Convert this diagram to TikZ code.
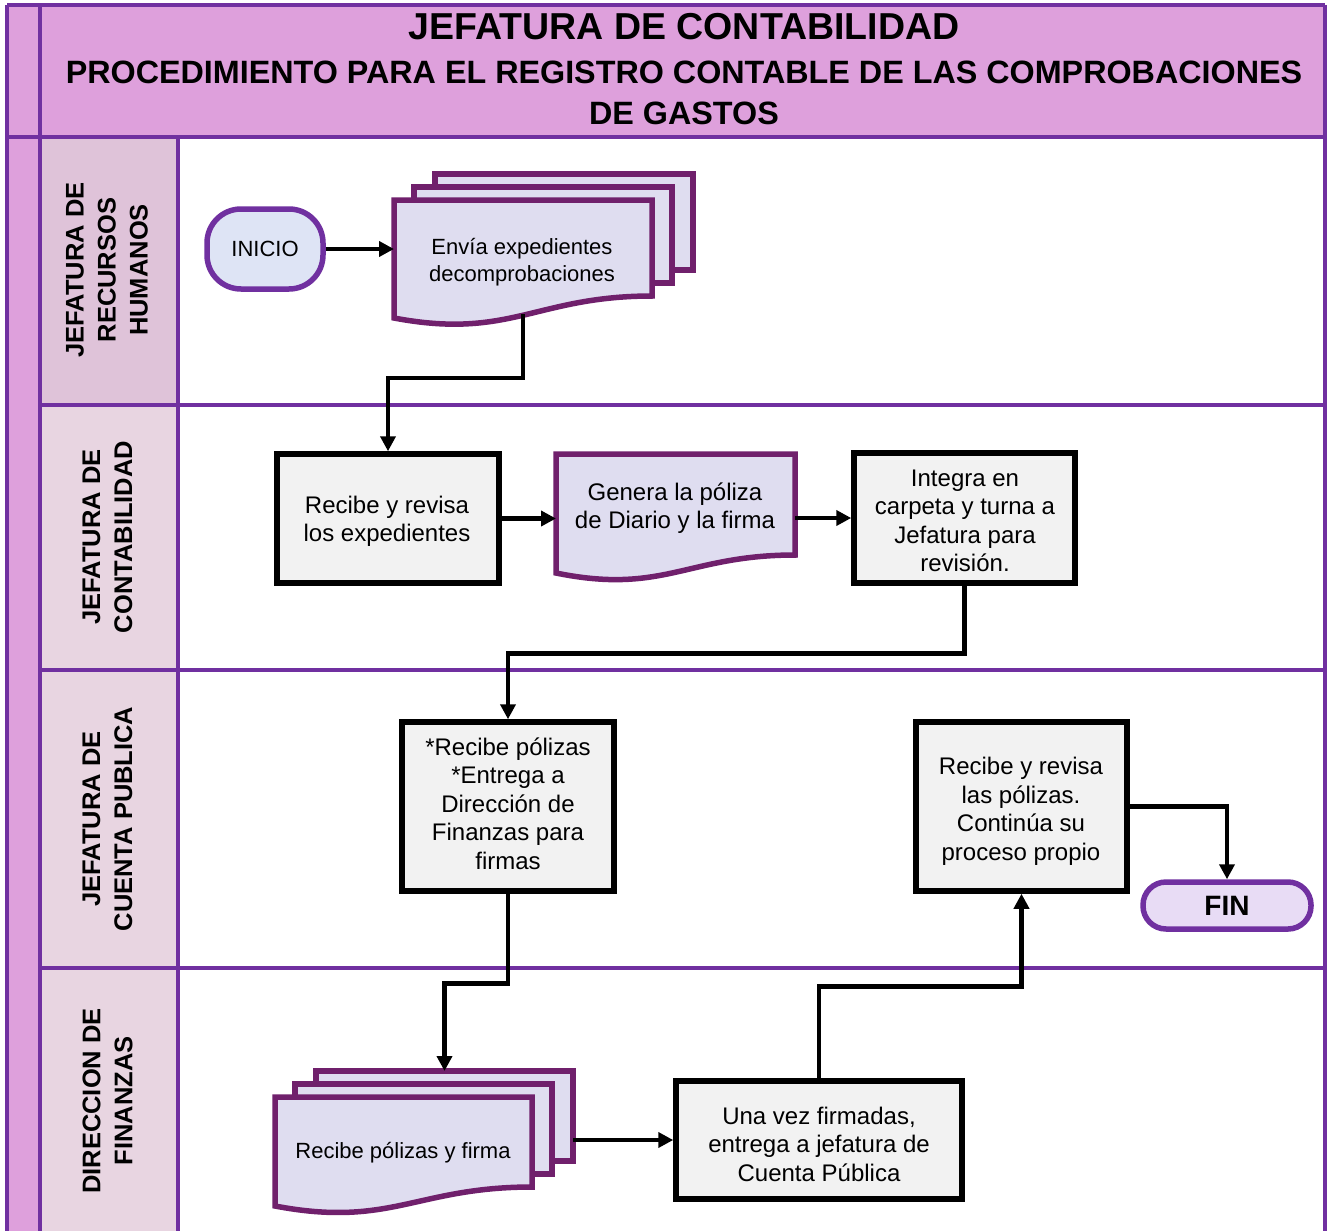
\documentclass[tikz,border=0pt]{standalone}
\usepackage{fontspec}
\setmainfont{Liberation Sans}
\usetikzlibrary{arrows.meta,calc}
\pgfdeclarelayer{lanes}
\pgfdeclarelayer{shapes}
\pgfsetlayers{lanes,shapes,main}

\definecolor{plumbg}{RGB}{222,160,220}
\definecolor{lanepurple}{RGB}{112,48,160}
\definecolor{labelA}{RGB}{223,195,217}
\definecolor{labelB}{RGB}{232,213,225}
\definecolor{docborder}{RGB}{112,32,108}
\definecolor{docfill}{RGB}{223,221,240}
\definecolor{procfill}{RGB}{242,242,242}
\definecolor{startfill}{RGB}{222,228,245}
\definecolor{endfill}{RGB}{232,220,245}

\tikzset{
  laneline/.style={draw=lanepurple, line width=4pt},
  proc/.style={draw=black, fill=procfill, line width=5.5pt, inner sep=0pt},
  boxtext/.style={align=center, inner sep=0pt, font=\fontsize{24}{28.5}\selectfont},
  doctext/.style={align=center, inner sep=0pt, font=\fontsize{22}{27}\selectfont},
  docnode/.style={inner sep=0pt, outer sep=0pt},
  docstyle/.style={draw=docborder, fill=docfill, line width=5.5pt, line join=miter},
  term/.style={draw=lanepurple, line width=5.5pt, align=center},
  conn/.style={draw=black, line width=4.8pt, -{Triangle[length=15pt,width=15pt]}},
  lanelabel/.style={align=center, font=\fontsize{25.5}{32}\selectfont\bfseries, rotate=90},
  titletext/.style={align=center, font=\bfseries},
}

% document body: node name, rise of right bottom corner
\newcommand{\docbody}[2]{%
  \path[docstyle] (#1.north west) -- (#1.north east) -- ($(#1.south east)+(0,-#2)$)
    .. controls ($(#1.south east)!0.45!(#1.south west)+(0,-#2)$)
    and ($(#1.south east)!0.55!(#1.south west)+(0,22)$) .. (#1.south west) -- cycle;}
% back page: node name, dx, dy, rise
\newcommand{\backpage}[4]{%
  \path[docstyle] ($(#1.north west)+(#2,#3)$) rectangle ($(#1.south east)+(#2,#3-#4)$);}

\begin{document}
\begin{tikzpicture}[x=1pt,y=-1pt]
\useasboundingbox (0,0) rectangle (1327,1231);

% ---------------- lanes ----------------
\begin{pgfonlayer}{lanes}
  \fill[white] (7,5) rectangle (1325,1231);
  \fill[plumbg] (7,5) rectangle (1325,137);
  \fill[plumbg] (7,137) rectangle (40,1231);
  \fill[labelA] (40,137) rectangle (178,405);
  \fill[labelB] (40,405) rectangle (178,1231);
  \draw[laneline] (7,5) -- (1325,5);
  \draw[laneline] (7,5) -- (7,1231);
  \draw[laneline] (40,5) -- (40,1231);
  \draw[laneline] (1325,5) -- (1325,1231);
  \draw[laneline] (7,137) -- (1325,137);
  \draw[laneline] (178,137) -- (178,1231);
  \draw[laneline] (40,405) -- (1325,405);
  \draw[laneline] (40,670) -- (1325,670);
  \draw[laneline] (40,968) -- (1325,968);
\end{pgfonlayer}

% ---------------- title ----------------
\node[titletext, font=\fontsize{37.5}{40}\selectfont\bfseries] (t1) at (684,27) {JEFATURA DE CONTABILIDAD};
\node[titletext, font=\fontsize{32.3}{41}\selectfont\bfseries] (t2) at (684,93) {PROCEDIMIENTO PARA EL REGISTRO CONTABLE DE LAS COMPROBACIONES\\DE GASTOS};

% ---------------- lane labels ----------------
\node[lanelabel] (lab1) at (107,270) {JEFATURA DE\\RECURSOS\\HUMANOS};
\node[lanelabel] (lab2) at (107.5,537) {JEFATURA DE\\CONTABILIDAD};
\node[lanelabel] (lab3) at (107.5,819) {JEFATURA DE\\CUENTA PUBLICA};
\node[lanelabel] (lab4) at (107.5,1101) {DIRECCION DE\\FINANZAS};

% ---------------- shapes ----------------
\node[term, fill=startfill, rounded corners=34pt, minimum width=116pt, minimum height=80pt,
  font=\fontsize{22}{26}\selectfont] (inicio) at (265,249) {INICIO};

\node[docnode, minimum width=258pt, minimum height=118pt] (envia) at (523,259) {};
\node[proc, minimum width=222pt, minimum height=129pt] (recibe) at (388,518.5) {};
\node[docnode, minimum width=239pt, minimum height=119pt] (genera) at (675.5,513.5) {};
\node[proc, minimum width=221pt, minimum height=130pt] (integra) at (964.5,518) {};
\node[proc, minimum width=212pt, minimum height=169pt] (recpol) at (508,806.5) {};
\node[proc, minimum width=211pt, minimum height=169pt] (revisa) at (1021.5,806.5) {};
\node[term, fill=endfill, rounded corners=23pt, minimum width=168pt, minimum height=47pt,
  font=\fontsize{28}{30}\selectfont\bfseries] (fin) at (1227,905.5) {FIN};
\node[docnode, minimum width=257pt, minimum height=109pt] (pol) at (403.5,1151.5) {};
\node[proc, minimum width=286pt, minimum height=118pt] (unavez) at (819,1140) {};

% document outlines
\begin{pgfonlayer}{shapes}
  \backpage{envia}{41}{-26}{22}
  \backpage{envia}{20}{-13}{22}
  \docbody{envia}{22}
  \docbody{genera}{18}
  \backpage{pol}{41}{-26}{19}
  \backpage{pol}{20}{-13}{19}
  \docbody{pol}{19}
\end{pgfonlayer}

% ---------------- texts ----------------
\node[doctext] (envia-t) at (522,262) {Envía expedientes\\decomprobaciones};
\node[boxtext] (recibe-t) at (387,521.5) {Recibe y revisa\\los expedientes};
\node[boxtext, font=\fontsize{24}{28}\selectfont] (genera-t) at (675,508.5) {Genera la póliza\\de Diario y la firma};
\node[boxtext] (integra-t) at (965,521) {Integra en\\carpeta y turna a\\Jefatura para\\revisión.};
\node[boxtext] (recpol-t) at (508,803.5) {*Recibe pólizas\\*Entrega a\\Dirección de\\Finanzas para\\firmas};
\node[boxtext] (revisa-t) at (1021,811.5) {Recibe y revisa\\las pólizas.\\Continúa su\\proceso propio};
\node[doctext] (pol-t) at (403,1153) {Recibe pólizas y firma};
\node[boxtext] (unavez-t) at (819,1144) {Una vez firmadas,\\entrega a jefatura de\\Cuenta Pública};

\coordinate (poltop) at ($(pol.north)+(41,-26)$);
\coordinate (polright) at ($(pol.east)+(41,0)$);

% ---------------- connectors ----------------
\draw[conn] (inicio.east) -- (inicio.east -| envia.west);
\draw[conn] ([yshift=4pt]envia.south) -- ++(0,64) -| (recibe.north);
\draw[conn] (recibe.east) -- (recibe.east -| genera.west);
\draw[conn] (integra.west -| genera.east) -- (integra.west);
\draw[conn] (integra.south) -- ++(0,68) -| (recpol.north);
\draw[conn] (recpol.south) -- ++(0,90) -| (poltop);
\draw[conn] (unavez.west -| polright) -- (unavez.west);
\draw[conn] (unavez.north) -- ++(0,-92) -| (revisa.south);
\draw[conn] (revisa.east) -| (fin.north);

\end{tikzpicture}
\end{document}
